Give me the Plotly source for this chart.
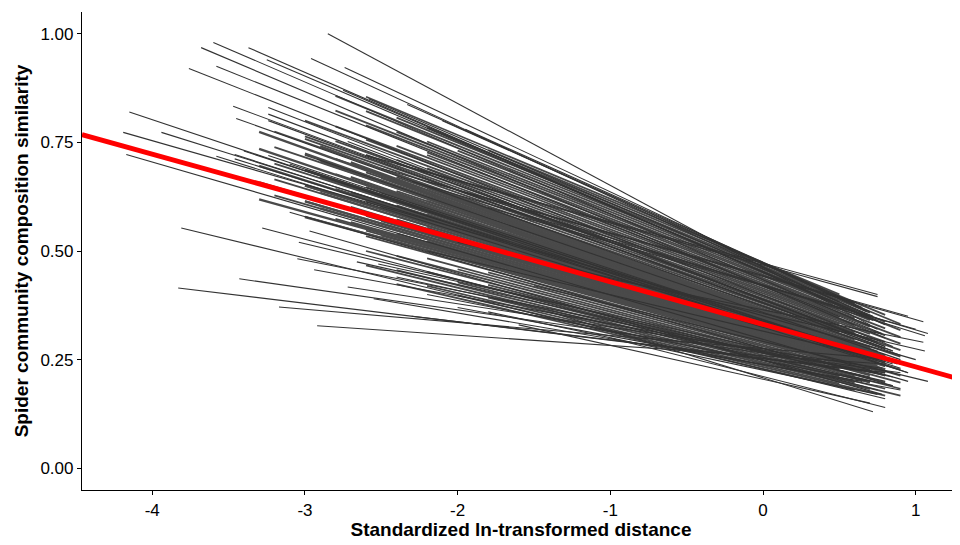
import plotly.graph_objects as go

# ---- data ----
# upper, steep lines
up_x0 = [-2.85, -3.60, -3.68, -3.37, -3.76, -3.58, -2.96, -2.74, -3.25, -2.75, -2.58, -2.33, -2.10, -1.95,
         -3.47, -3.45, -3.24, -3.24, -3.24, -2.92, -2.72, -4.15, -4.19, -4.17, -3.94, -3.46, -3.46, -3.40,
         -3.58, -3.24, -3.10]
up_y0 = [1.00, 0.98, 0.968, 0.968, 0.92, 0.925, 0.943, 0.922, 0.94, 0.87, 0.85, 0.837, 0.80, 0.78,
         0.833, 0.805, 0.83, 0.815, 0.80, 0.711, 0.752, 0.82, 0.773, 0.722, 0.773, 0.722, 0.712, 0.730,
         0.718, 0.72, 0.70]
up_x1 = [0.70, 0.75, 0.80, 0.72, 0.85, 0.78, 0.70, 0.68, 0.75, 0.80, 0.72, 0.65, 0.70, 0.60,
         0.85, 0.90, 0.80, 0.75, 0.85, 0.90, 0.80, 0.95, 1.00, 0.95, 0.90, 0.90, 0.85, 0.80,
         0.95, 0.88, 0.75]
up_y1 = [0.33, 0.32, 0.30, 0.34, 0.28, 0.31, 0.35, 0.36, 0.34, 0.33, 0.35, 0.37, 0.36, 0.38,
         0.27, 0.26, 0.28, 0.29, 0.27, 0.25, 0.28, 0.22, 0.25, 0.20, 0.24, 0.23, 0.24, 0.25,
         0.22, 0.24, 0.25]

# moderate lines reaching the top / far right of the end zone
mid_x0 = [-2.60, -2.40, -2.20, -2.00, -1.80, -2.30, -2.50, -2.00, -1.50, -2.20, -1.20]
mid_y0 = [0.72, 0.70, 0.66, 0.64, 0.60, 0.66, 0.69, 0.52, 0.42, 0.50, 0.45]
mid_x1 = [0.75, 0.75, 1.05, 1.06, 1.00, 1.08, 0.95, 1.06, 1.08, 1.02, 1.05]
mid_y1 = [0.40, 0.395, 0.337, 0.305, 0.32, 0.31, 0.35, 0.27, 0.20, 0.23, 0.29]

# lower, shallow lines
low_x0 = [-3.81, -3.28, -2.97, -3.10, -3.43, -3.83, -3.17, -2.92, -3.05, -2.94, -3.04, -2.66,
          -2.72, -2.52, -2.40, -2.20, -2.00, -1.80, -2.30, -1.60, -2.55, -1.40, -1.00]
low_y0 = [0.553, 0.553, 0.546, 0.589, 0.436, 0.415, 0.371, 0.328, 0.482, 0.457, 0.52, 0.475,
          0.417, 0.47, 0.44, 0.40, 0.37, 0.36, 0.35, 0.33, 0.39, 0.36, 0.30]
low_x1 = [0.80, 0.75, 0.78, 0.85, 0.90, 0.75, 0.85, 0.80, 0.85, 0.75, 0.80, 0.70,
          0.78, 0.72, 0.85, 0.70, 0.90, 0.75, 0.80, 0.70, 0.65, 0.72, 0.80]
low_y1 = [0.16, 0.18, 0.17, 0.19, 0.22, 0.22, 0.25, 0.24, 0.21, 0.22, 0.20, 0.21,
          0.23, 0.22, 0.19, 0.20, 0.18, 0.17, 0.22, 0.15, 0.20, 0.13, 0.14]

# wide band of lines
band_x0 = [-2.4, -2.0, -2.2, -1.8, -2.6, -2.4, -2.0, -2.2, -1.8, -2.6, -2.4, -2.0, -2.2, -1.8, -2.6,
           -3.0, -2.6, -2.8, -2.4, -3.2, -3.0, -2.6, -2.8, -2.4, -3.2, -3.0, -2.6, -2.8, -2.4, -3.2,
           -3.0, -2.6, -2.8, -2.4, -3.2, -3.0, -2.6, -2.8, -2.4, -3.2, -3.0,
           -3.0, -2.6, -2.8, -2.4, -2.2, -3.0, -2.6, -2.8, -2.4, -2.2, -2.2, -2.6, -2.8, -2.4, -2.2,
           -2.0, -2.6, -2.8, -2.4, -2.2, -1.8, -2.6]
band_y0 = [0.424, 0.398, 0.420, 0.393, 0.467, 0.456, 0.428, 0.452, 0.422, 0.500,
           0.489, 0.458, 0.483, 0.451, 0.534, 0.579, 0.547, 0.574, 0.540, 0.628,
           0.615, 0.581, 0.608, 0.573, 0.665, 0.650, 0.614, 0.643, 0.605, 0.701,
           0.686, 0.647, 0.677, 0.638, 0.739, 0.721, 0.681, 0.712, 0.670, 0.775,
           0.758, 0.764, 0.721, 0.753, 0.710, 0.690, 0.800, 0.756, 0.787, 0.742,
           0.721, 0.727, 0.789, 0.823, 0.774, 0.752, 0.731, 0.822, 0.857, 0.807,
           0.784, 0.732, 0.855]
band_x1 = [0.6, 0.8, 0.5, 0.7, 0.9] * 12 + [0.6, 0.8, 0.5]
band_y1 = [0.180, 0.167, 0.195, 0.182, 0.167, 0.197, 0.183, 0.212, 0.197, 0.183,
           0.213, 0.197, 0.229, 0.214, 0.197, 0.230, 0.213, 0.246, 0.230, 0.213,
           0.246, 0.228, 0.263, 0.245, 0.227, 0.263, 0.244, 0.280, 0.262, 0.242,
           0.279, 0.260, 0.298, 0.277, 0.257, 0.296, 0.275, 0.314, 0.294, 0.272,
           0.312, 0.291, 0.332, 0.309, 0.287, 0.329, 0.306, 0.348, 0.326, 0.302,
           0.345, 0.322, 0.366, 0.341, 0.318, 0.362, 0.337, 0.383, 0.358, 0.332,
           0.378, 0.353, 0.400]

# dense core of lines around the fitted line
core_x0 = [-3.0, -2.5, -3.3, -2.7, -2.2, -2.9] * 5
core_y0 = [0.578, 0.536, 0.619, 0.566, 0.522, 0.598, 0.614, 0.569, 0.658, 0.601,
           0.553, 0.634, 0.651, 0.602, 0.696, 0.635, 0.584, 0.670, 0.687, 0.635,
           0.735, 0.670, 0.615, 0.706, 0.724, 0.668, 0.774, 0.704, 0.645, 0.741]
core_x1 = [0.70, 0.55, 0.80, 0.65, 0.75] * 6
core_y1 = [0.226, 0.242, 0.220, 0.236, 0.228, 0.234, 0.251, 0.227, 0.245, 0.236,
           0.243, 0.261, 0.235, 0.253, 0.244, 0.251, 0.270, 0.243, 0.262, 0.252,
           0.259, 0.279, 0.250, 0.270, 0.260, 0.268, 0.288, 0.258, 0.279, 0.268]

# overall (fixed-effect) fit
fit_x = [-4.46, 1.30]
fit_y = [0.768, 0.204]

x_ticks = [-4, -3, -2, -1, 0, 1]
x_tick_text = ["-4", "-3", "-2", "-1", "0", "1"]
y_ticks = [0.00, 0.25, 0.50, 0.75, 1.00]
y_tick_text = ["0.00", "0.25", "0.50", "0.75", "1.00"]


def segs(x0, y0, x1, y1):
    xs, ys = [], []
    for a, b, c, d in zip(x0, y0, x1, y1):
        xs += [a, c, None]
        ys += [b, d, None]
    return xs, ys


fig = go.Figure()
for (x0, y0, x1, y1), w, col in [((band_x0, band_y0, band_x1, band_y1), 1.8, "#474747"),
                                 ((core_x0, core_y0, core_x1, core_y1), 2.3, "#4a4a4a"),
                                 ((low_x0, low_y0, low_x1, low_y1), 1.1, "#333333"),
                                 ((mid_x0, mid_y0, mid_x1, mid_y1), 1.1, "#333333"),
                                 ((up_x0, up_y0, up_x1, up_y1), 1.1, "#333333")]:
    xs, ys = segs(x0, y0, x1, y1)
    fig.add_trace(go.Scatter(x=xs, y=ys, mode="lines",
                             line=dict(color=col, width=w),
                             hoverinfo="skip", showlegend=False))

fig.add_trace(go.Scatter(x=fit_x, y=fit_y, mode="lines",
                         line=dict(color="#FF0000", width=5),
                         hoverinfo="skip", showlegend=False))

font_fam = "Liberation Sans, Arial, sans-serif"
fig.update_layout(
    width=960, height=537,
    margin=dict(l=74, r=8, t=4, b=55),
    paper_bgcolor="white", plot_bgcolor="white",
    font=dict(family=font_fam, color="black", size=17),
    xaxis=dict(range=[-4.46, 1.29], tickvals=x_ticks, ticktext=x_tick_text,
               showgrid=False, zeroline=False, showline=True, linecolor="black",
               linewidth=1.2, ticks="outside", ticklen=4, tickcolor="black",
               tickfont=dict(size=17, color="black"), automargin=False,
               title=dict(text="<b>Standardized ln-transformed distance</b>",
                          font=dict(size=19, color="black"), standoff=3)),
    yaxis=dict(range=[-0.05, 1.05], tickvals=y_ticks, ticktext=y_tick_text,
               showgrid=False, zeroline=False, showline=True, linecolor="black",
               linewidth=1.2, ticks="outside", ticklen=4, tickcolor="black",
               tickfont=dict(size=17, color="black"), automargin=False,
               title=dict(text="<b>Spider community composition similarity</b>",
                          font=dict(size=19, color="black"), standoff=6)),
)

fig.write_html("out.html")
